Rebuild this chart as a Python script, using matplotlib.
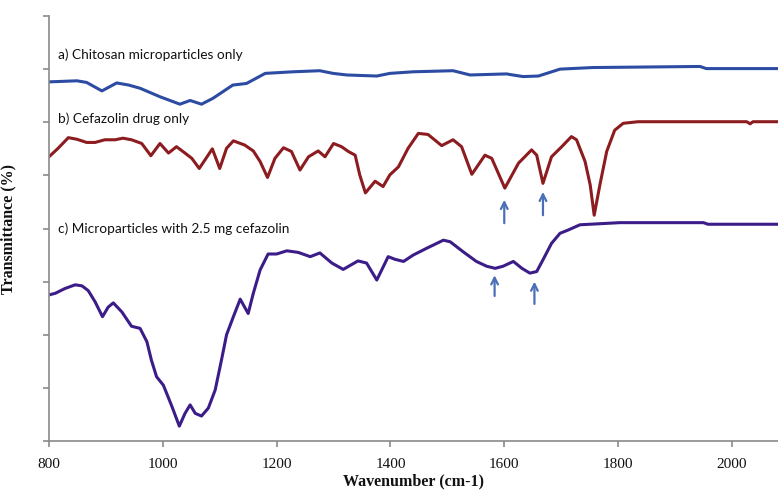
import matplotlib
matplotlib.use("Agg")
import matplotlib.pyplot as plt

plt.rcParams["font.family"] = ["Liberation Serif", "DejaVu Serif"]

# FTIR spectra (wavenumber in cm-1, transmittance in arbitrary offset units)
chitosan_wn = [800, 849, 866, 893, 919, 940, 960, 995, 1030, 1048, 1068, 1088, 1123,
               1147, 1180, 1229, 1276, 1299, 1323, 1376, 1399, 1440, 1510, 1540,
               1604, 1615, 1633, 1660, 1698, 1756, 1944, 1955, 2081]
chitosan_t = [67.6, 67.8, 67.5, 65.9, 67.4, 67.0, 66.4, 64.8, 63.4, 64.1, 63.4, 64.5, 67.0,
              67.3, 69.2, 69.5, 69.7, 69.2, 68.9, 68.7, 69.2, 69.5, 69.7, 68.9,
              69.1, 68.9, 68.6, 68.7, 70.0, 70.3, 70.5, 70.1, 70.1]

cefazolin_wn = [800, 816, 834, 849, 866, 881, 898, 916, 930, 945, 963, 979, 995,
                1010, 1024, 1039, 1051, 1064, 1074, 1087, 1100, 1112, 1124, 1144,
                1159, 1171, 1184, 1197, 1212, 1226, 1241, 1256, 1273, 1285, 1300,
                1314, 1326, 1338, 1346, 1356, 1373, 1387, 1399, 1414, 1431, 1449,
                1466, 1490, 1510, 1525, 1543, 1566, 1578, 1601, 1625, 1648, 1657,
                1668, 1683, 1701, 1718, 1727, 1742, 1751, 1758, 1768, 1780, 1794,
                1809, 1835, 2026, 2032, 2037, 2081]
cefazolin_t = [53.5, 55.1, 57.1, 56.8, 56.2, 56.2, 56.7, 56.7, 57.0, 56.7, 56.0, 53.7, 56.0,
               54.2, 55.4, 54.2, 53.2, 51.3, 52.9, 55.0, 51.3, 55.1, 56.5, 55.7,
               54.6, 52.6, 49.6, 53.2, 55.2, 54.5, 51.0, 53.5, 54.6, 53.5, 56.0,
               55.4, 54.5, 53.8, 50.1, 46.7, 48.9, 47.9, 50.1, 51.6, 55.1, 57.9,
               57.7, 55.6, 56.7, 55.4, 50.2, 53.8, 53.2, 47.6, 52.3, 54.8, 53.8,
               48.5, 53.5, 55.4, 57.3, 56.7, 52.6, 48.2, 42.5, 48.2, 54.5, 58.5,
               59.8, 60.1, 60.1, 59.7, 60.1, 60.1]

loaded_wn = [800, 811, 828, 846, 858, 869, 881, 894, 904, 913, 928, 945, 960, 972,
             980, 989, 1001, 1016, 1029, 1039, 1048, 1057, 1068, 1080, 1092, 1103,
             1112, 1124, 1136, 1150, 1159, 1171, 1185, 1200, 1218, 1238, 1259, 1276,
             1297, 1317, 1343, 1358, 1376, 1396, 1408, 1423, 1440, 1464, 1493, 1505,
             1528, 1551, 1569, 1584, 1598, 1616, 1631, 1645, 1657, 1668, 1683, 1698,
             1712, 1733, 1803, 1950, 1958, 2081]
loaded_t = [27.5, 27.8, 28.7, 29.4, 29.2, 28.3, 26.2, 23.4, 25.2, 26.0, 24.3, 21.6, 21.2, 18.7,
            15.2, 12.1, 10.5, 6.5, 2.8, 5.2, 6.8, 5.2, 4.7, 6.2, 9.6, 15.2,
            20.0, 23.4, 26.7, 24.0, 27.8, 32.2, 35.2, 35.2, 35.8, 35.5, 34.7, 35.4,
            33.5, 32.3, 33.9, 33.5, 30.3, 34.7, 34.2, 33.8, 35.0, 36.3, 37.8, 37.5,
            35.6, 33.8, 32.9, 32.5, 32.9, 33.8, 32.5, 31.6, 31.9, 34.1, 37.2, 39.1,
            39.7, 40.7, 41.1, 41.1, 40.8, 40.8]

# peaks marked with arrows: (wavenumber, tip, tail)
arrow_wn = [1600, 1668, 1583, 1653]
arrow_tip = [45.4, 46.9, 31.2, 30.0]
arrow_tail = [41.0, 42.5, 27.3, 25.8]

labels = ["a) Chitosan microparticles only",
          "b) Cefazolin drug only",
          "c) Microparticles with 2.5 mg cefazolin"]
label_y = [72.7, 60.7, 39.9]

x_ticks = [800, 1000, 1200, 1400, 1600, 1800, 2000]
y_ticks = list(range(0, 81, 10))

fig = plt.figure(figsize=(7.78, 4.91), dpi=100)
ax = fig.add_axes([49 / 778, 50 / 491, 1 - 49 / 778, 425 / 491])

line_kw = dict(lw=2.2, solid_joinstyle="round", solid_capstyle="round")
ax.plot(chitosan_wn, chitosan_t, color="#2c4ba2", **line_kw)
ax.plot(cefazolin_wn, cefazolin_t, color="#8c1c1f", **line_kw)
ax.plot(loaded_wn, loaded_t, color="#3b1c88", **line_kw)

for wn, tip, tail in zip(arrow_wn, arrow_tip, arrow_tail):
    ax.annotate("", xy=(wn, tip), xytext=(wn, tail),
                arrowprops=dict(arrowstyle="->", color="#4b6fb6", lw=1.6,
                                mutation_scale=12, shrinkA=0, shrinkB=0))

for text, y in zip(labels, label_y):
    ax.text(815, y, text, fontsize=9.8, family=["Lato", "DejaVu Sans"],
            color="#111111", va="center", ha="left")

ax.set_xlim(800, 2081)
ax.set_ylim(0, 80)
ax.set_xticks(x_ticks)
ax.set_xticklabels([str(v) for v in x_ticks], fontsize=11)
ax.set_yticks(y_ticks)
ax.set_yticklabels([])

for side in ("top", "right"):
    ax.spines[side].set_visible(False)
for side in ("left", "bottom"):
    ax.spines[side].set_color("#8a8a8a")
    ax.spines[side].set_linewidth(1.2)
ax.tick_params(axis="both", direction="out", length=4, width=1.2, color="#8a8a8a",
               labelcolor="#111111")
ax.tick_params(axis="x", pad=8)

ax.set_xlabel("Wavenumber (cm-1)", fontweight="bold", fontsize=11.5, labelpad=2,
              color="#111111")
ax.set_ylabel("Transmittance (%)", fontweight="bold", fontsize=11.5, labelpad=16,
              color="#111111")

fig.savefig("out.png", dpi=100)
